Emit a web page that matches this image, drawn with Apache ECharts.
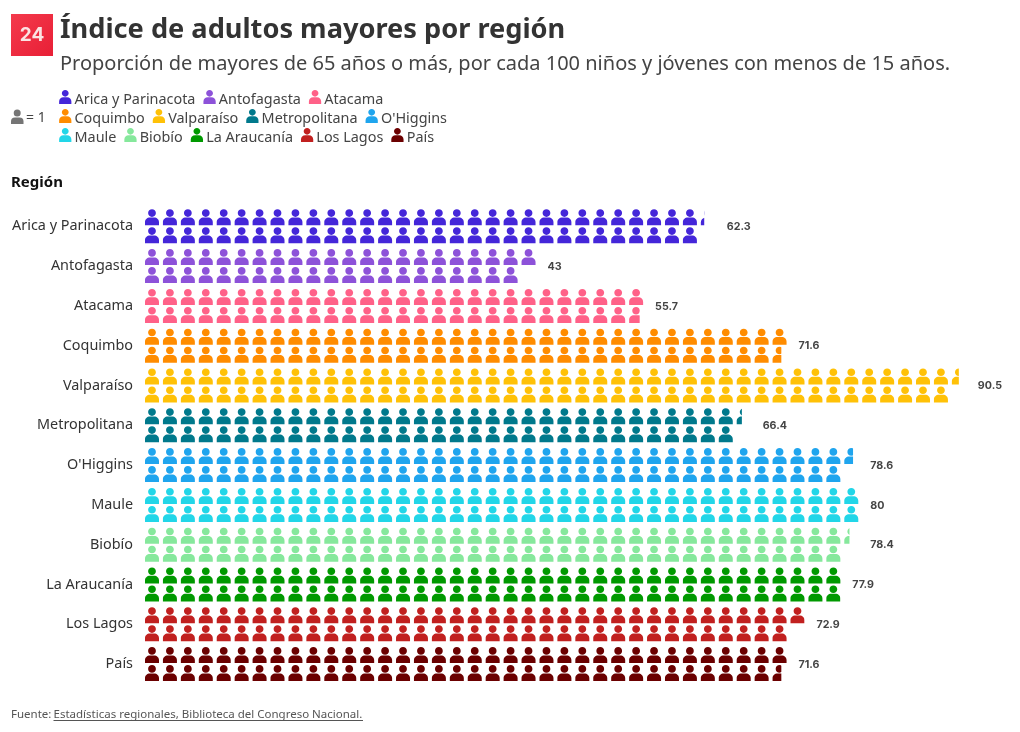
<!DOCTYPE html>
<html><head><meta charset="utf-8">
<style>html,body{margin:0;padding:0;background:#fff}#c{width:1020px;height:732px}</style>
<script src="https://cdn.jsdelivr.net/npm/echarts@6/dist/echarts.min.js"></script>
</head><body><div id="c"></div>
<script>
const categories = ['Arica y Parinacota','Antofagasta','Atacama','Coquimbo','Valparaíso','Metropolitana',"O'Higgins",'Maule','Biobío','La Araucanía','Los Lagos','País'];
const values = [62.3,43,55.7,71.6,90.5,66.4,78.6,80,78.4,77.9,72.9,71.6];
const colors = ['#4426d9','#8d52d9','#ff6188','#ff8c00','#ffc107','#00798c','#1fa5ee','#22d6e8','#86e89c','#009900','#c1201f','#6b0000'];
const legendRows = [categories.slice(0,3),categories.slice(3,7),categories.slice(7)];
const FONT = '"Noto Sans"';
const PERSON = 'M7 0C9.15 0 10.9 1.7 10.9 3.8S9.15 7.6 7 7.6 3.1 5.9 3.1 3.8 4.85 0 7 0Z M5 8.3H9C12 8.3 14 10.4 14 13V16H0V13C0 10.4 2 8.3 5 8.3Z';

function renderRegion(color){
  return function(params, api){
    const v = api.value(0), idx = api.value(1);
    const cy = api.coord([0, idx])[1];
    const x0 = api.coord([0, idx])[0];
    const cw = api.coord([2, idx])[0] - x0;
    const children = [];
    const cols = Math.ceil(v / 2);
    for (let c = 0; c < cols; c++) {
      for (let r = 0; r < 2; r++) {
        const fill = Math.min(1, Math.max(0, v - (2 * c + r)));
        if (fill <= 0) continue;
        const left = x0 + c * cw;
        const top = cy + (r === 0 ? -18 : 0);
        const el = {
          type: 'path',
          shape: { pathData: PERSON, x: left + 2, y: top + 1, width: 14, height: 16, layout: 'cover' },
          style: { fill: color }
        };
        if (fill < 1) el.clipPath = { type: 'rect', shape: { x: left, y: top, width: cw * fill, height: 18 } };
        children.push(el);
      }
    }
    children.push({
      type: 'text',
      style: { text: String(v), x: x0 + cols * cw + 10, y: cy + 0.5, fill: '#444', font: '700 10.7px Inter', textAlign: 'left', verticalAlign: 'middle' }
    });
    return { type: 'group', children };
  };
}

const legendData = [];
legendRows.forEach((row, i) => {
  if (i) legendData.push(i === 1 ? '' : '\n');
  row.forEach(n => legendData.push({ name: n, icon: 'path://' + PERSON }));
});

const option = {
  animation: false,
  backgroundColor: '#fff',
  textStyle: { fontFamily: FONT },
  title: [
    { left: 55, top: 12, text: 'Índice de adultos mayores por región', textStyle: { fontFamily: FONT, fontSize: 27.2, fontWeight: 700, color: '#333' } },
    { left: 55, top: 49, text: 'Proporción de mayores de 65 años o más, por cada 100 niños y jóvenes con menos de 15 años.', textStyle: { fontFamily: FONT, fontSize: 20, fontWeight: 400, color: '#444' } }
  ],
  legend: {
    left: 59, top: 87.5, orient: 'horizontal', selectedMode: false, padding: 0,
    itemWidth: 12.5, itemHeight: 14, itemGap: 0, data: legendData,
    formatter: n => '{a|' + n + '}',
    textStyle: { rich: { a: { fontFamily: FONT, fontSize: 14.4, color: '#444', lineHeight: 10, padding: [5, 8, 0, -2] } } }
  },
  grid: { left: 143, top: 206.4, width: 824.8, height: 477.6 },
  xAxis: { type: 'value', min: 0, max: 92, show: false },
  yAxis: {
    type: 'category', data: categories, inverse: true,
    axisLine: { show: false }, axisTick: { show: false },
    axisLabel: { margin: 10, fontFamily: FONT, fontSize: 14.4, color: '#333', padding: [6, 0, 0, 0] }
  },
  graphic: [
    { type: 'rect', shape: { x: 11, y: 14, width: 42, height: 42 }, style: { fill: new echarts.graphic.LinearGradient(0, 0, 1, 1, [{ offset: 0, color: '#f43a4c' }, { offset: 1, color: '#e81f36' }]) } },
    { type: 'text', style: { x: 32, y: 35.5, text: '24', font: '700 19px Inter', fill: '#fbe3e3', textAlign: 'center', verticalAlign: 'middle' } },
    { type: 'circle', shape: { cx: 17.2, cy: 113, r: 3.5 }, style: { fill: '#757575' } },
    { type: 'rect', shape: { x: 11, y: 117.5, width: 12.5, height: 6.5, r: [4, 4, 0, 0] }, style: { fill: '#757575' } },
    { type: 'text', style: { x: 26, y: 118, text: '= 1', font: '14px ' + FONT, fill: '#444', verticalAlign: 'middle' } },
    { type: 'text', style: { x: 11, y: 183, text: 'Región', font: '700 15px ' + FONT, fill: '#111', verticalAlign: 'middle' } },
    { type: 'text', style: { x: 11, y: 715, text: 'Fuente: ', font: '11.5px ' + FONT, fill: '#555', verticalAlign: 'middle' } },
    { type: 'text', style: { x: 53.5, y: 715, text: 'Estadísticas regionales, Biblioteca del Congreso Nacional.', font: '11.5px ' + FONT, fill: '#555', verticalAlign: 'middle' } },
    { type: 'line', shape: { x1: 53.5, y1: 720.5, x2: 363, y2: 720.5 }, style: { stroke: '#555', lineWidth: 1 } }
  ],
  series: categories.map((name, i) => ({
    type: 'custom', name, clip: false, coordinateSystem: 'cartesian2d',
    itemStyle: { color: colors[i] }, encode: { x: 0, y: 1 },
    renderItem: renderRegion(colors[i]),
    data: [[values[i], i]]
  }))
};
echarts.init(document.getElementById('c'), null, { renderer: 'canvas' }).setOption(option);
</script></body></html>
